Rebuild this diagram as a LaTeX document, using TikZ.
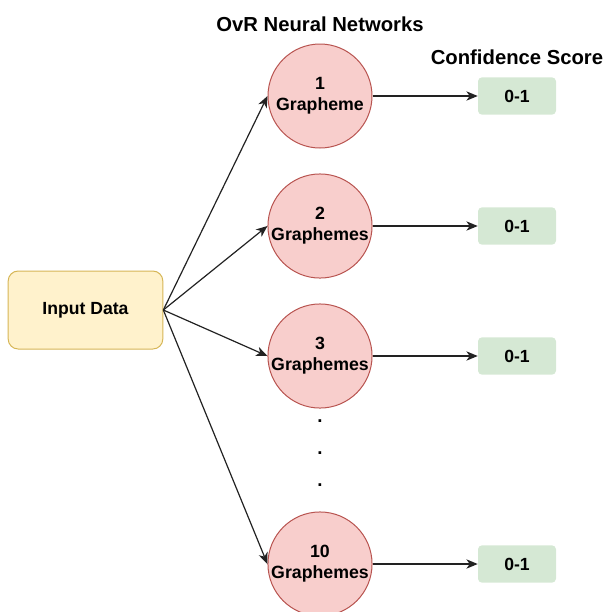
\documentclass[tikz,border=0pt]{standalone}
\usepackage{fontspec}
\setmainfont{Liberation Sans}
\usetikzlibrary{arrows.meta}
\definecolor{inFill}{HTML}{FFF2CC}
\definecolor{inDraw}{HTML}{D6B656}
\definecolor{nnFill}{HTML}{F8CECC}
\definecolor{nnDraw}{HTML}{B85450}
\definecolor{scFill}{HTML}{D5E8D4}
\definecolor{lnCol}{HTML}{222222}
\begin{document}
\begin{tikzpicture}[x=0.75pt,y=-0.75pt,
  inbox/.style={draw=inDraw,fill=inFill,rounded corners=7.5pt,minimum width=116pt,minimum height=58.5pt,line width=0.75pt,font=\bfseries\fontsize{13.2}{15}\selectfont},
  nnode/.style={circle,draw=nnDraw,fill=nnFill,minimum size=78pt,inner sep=0pt,line width=0.75pt,align=center,font=\bfseries\fontsize{13.3}{15.8}\selectfont},
  score/.style={fill=scFill,rounded corners=3pt,minimum width=58.5pt,minimum height=28pt,font=\bfseries\fontsize{13.2}{15}\selectfont},
  title/.style={font=\bfseries\fontsize{15.2}{17}\selectfont},
  dotlbl/.style={font=\bfseries\fontsize{14}{15}\selectfont},
  conn/.style={draw=lnCol,line width=0.9pt,-{Stealth[length=8.5pt,width=7pt,inset=2.5pt]}}]
\useasboundingbox (0,0) rectangle (606,612);
\node[inbox] (in) at (85.5,310) {Input Data};
\node[nnode] (n1) at (320,96) {1\\Grapheme};
\node[nnode] (n2) at (320,226) {2\\Graphemes};
\node[nnode] (n3) at (320,356) {3\\Graphemes};
\node[nnode] (n4) at (320,564) {10\\Graphemes};
\node[score] (s1) at (517,96) {0-1};
\node[score] (s2) at (517,226) {0-1};
\node[score] (s3) at (517,356) {0-1};
\node[score] (s4) at (517,564) {0-1};
\node[title] (t1) at (320,24) {OvR Neural Networks};
\node[title] (t2) at (517,57) {Confidence Score};
\node[dotlbl] (d1) at (320,421) {.};
\node[dotlbl] (d2) at (320,453) {.};
\node[dotlbl] (d3) at (320,485) {.};
\foreach \i in {1,2,3,4}{
  \draw[conn] (in.east) -- (n\i.west);
  \draw[conn] (n\i.east) -- (s\i.west);
}
\end{tikzpicture}
\end{document}
